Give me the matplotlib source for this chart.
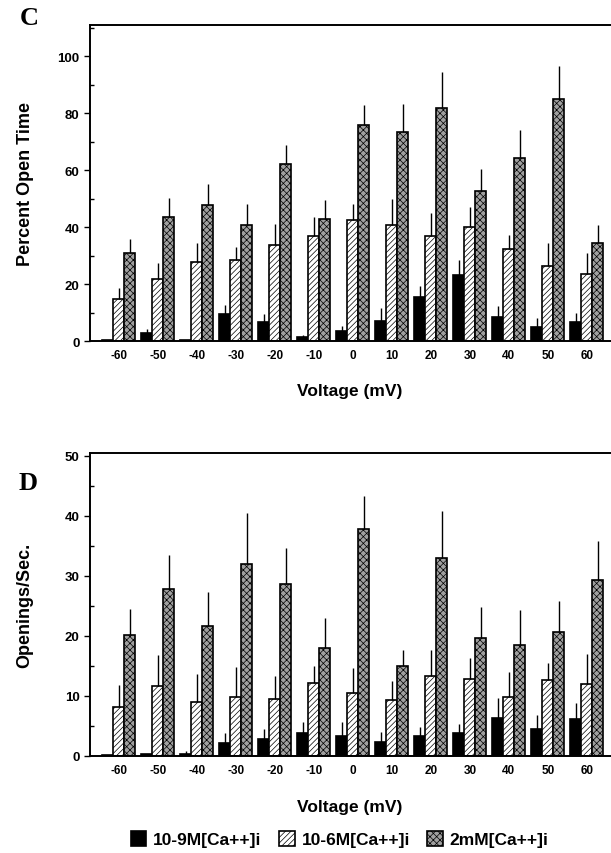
import numpy as np
import matplotlib
matplotlib.use("Agg")
import matplotlib.pyplot as plt
from matplotlib.ticker import MultipleLocator

plt.rcParams["font.family"] = ["Liberation Sans", "DejaVu Sans"]
plt.rcParams["font.weight"] = "bold"
plt.rcParams["hatch.linewidth"] = 0.5

# Voltage steps (mV)
voltages = ["-60", "-50", "-40", "-30", "-20", "-10", "0", "10", "20", "30", "40", "50", "60"]
series_labels = ["10-9M[Ca++]i", "10-6M[Ca++]i", "2mM[Ca++]i"]

# Panel C: percent open time (mean, upper SEM)
open_low = [0.5, 2.9, 0.3, 9.6, 6.7, 1.5, 3.6, 7.1, 15.3, 23.2, 8.5, 4.8, 6.6]
open_low_err = [0, 1.3, 0, 2.9, 2.7, 0.7, 1.8, 4.4, 3.9, 5.2, 3.9, 3.3, 3.1]
open_mid = [14.6, 21.9, 27.7, 28.4, 33.6, 36.8, 42.6, 40.7, 37.0, 40.1, 32.3, 26.4, 23.5]
open_mid_err = [4.2, 5.6, 6.6, 4.7, 7.4, 6.6, 5.4, 9.3, 7.8, 7.0, 4.9, 8.2, 7.4]
open_high = [30.8, 43.6, 47.7, 40.6, 62.3, 42.8, 75.8, 73.6, 82.0, 52.7, 64.4, 84.9, 34.6]
open_high_err = [5.0, 6.5, 7.6, 7.4, 6.7, 6.7, 7.0, 9.8, 12.5, 7.7, 9.6, 11.7, 6.1]

# Panel D: openings per second (mean, upper SEM)
freq_low = [0.2, 0.3, 0.3, 2.1, 2.9, 3.9, 3.4, 2.3, 3.4, 3.8, 6.3, 4.5, 6.1]
freq_low_err = [0, 0, 0.5, 1.8, 1.6, 1.8, 2.3, 1.7, 1.4, 1.6, 3.3, 2.3, 2.8]
freq_mid = [8.1, 11.7, 9.0, 9.8, 9.5, 12.1, 10.5, 9.4, 13.3, 12.9, 9.9, 12.6, 12.0]
freq_mid_err = [3.7, 5.2, 4.7, 5.1, 3.9, 2.9, 4.2, 3.1, 4.4, 3.5, 4.1, 2.9, 5.0]
freq_high = [20.2, 27.8, 21.6, 32.0, 28.7, 18.0, 37.8, 15.0, 33.0, 19.6, 18.5, 20.6, 29.4]
freq_high_err = [4.3, 5.7, 5.7, 8.5, 5.9, 5.0, 5.5, 2.7, 7.9, 5.2, 5.9, 5.3, 6.4]

# Bar styles: (facecolor, hatch)
styles = [("black", None), ("white", "//////"), ("#a0a0a0", "xxxxx")]


def draw_panel(ax, series, errors, ymax, major, minor, ylabel):
    x = np.arange(len(voltages))
    width = 0.28
    handles = []
    for i, (vals, errs) in enumerate(zip(series, errors)):
        face, hatch = styles[i]
        pos = x + (i - 1) * width
        b = ax.bar(pos, vals, width, color=face, edgecolor="black",
                   hatch=hatch, linewidth=1.2, label=series_labels[i], zorder=2)
        handles.append(b)
        # one-sided error bars (upper only)
        ax.vlines(pos, np.array(vals), np.array(vals) + np.array(errs),
                  color="black", linewidth=1.0, zorder=3)
    ax.set_xlim(-0.74, 12.62)
    ax.set_ylim(0, ymax)
    ax.set_xticks(x)
    ax.set_xticklabels(voltages, fontsize=8.5, fontweight="bold")
    ax.tick_params(axis="x", length=0, pad=6)
    ax.yaxis.set_major_locator(MultipleLocator(major))
    ax.yaxis.set_minor_locator(MultipleLocator(minor))
    ax.tick_params(axis="y", which="major", direction="out", length=4, width=1, labelsize=9.5)
    ax.tick_params(axis="y", which="minor", direction="in", length=3, width=1)
    for lbl in ax.get_yticklabels():
        lbl.set_fontweight("bold")
    ax.spines["right"].set_visible(False)
    for s in ["top", "left", "bottom"]:
        ax.spines[s].set_linewidth(1.4)
    ax.set_ylabel(ylabel, fontsize=13, fontweight="bold")
    ax.yaxis.set_label_coords(-0.108, 0.5)
    return handles


fig = plt.figure(figsize=(6.11, 8.54), dpi=100)
ax_c = fig.add_axes([0.1473, 0.5995, 0.8527, 0.370])
ax_d = fig.add_axes([0.1473, 0.1136, 0.8527, 0.3548])

handles = draw_panel(ax_c, [open_low, open_mid, open_high],
                     [open_low_err, open_mid_err, open_high_err],
                     111, 20, 10, "Percent Open Time")
draw_panel(ax_d, [freq_low, freq_mid, freq_high],
           [freq_low_err, freq_mid_err, freq_high_err],
           50.5, 10, 5, "Openings/Sec.")

fig.text(0.573, 0.542, "Voltage (mV)", ha="center", va="center", fontsize=12.5, fontweight="bold")
fig.text(0.573, 0.054, "Voltage (mV)", ha="center", va="center", fontsize=12.5, fontweight="bold")

# Panel letters
fig.text(0.032, 0.978, "C", ha="left", va="center", fontsize=19, fontweight="bold",
         family=["Liberation Serif", "DejaVu Serif"])
fig.text(0.030, 0.434, "D", ha="left", va="center", fontsize=19, fontweight="bold",
         family=["Liberation Serif", "DejaVu Serif"])

fig.legend(handles=handles, labels=series_labels, loc="center",
           bbox_to_anchor=(0.556, 0.016), ncol=3, frameon=False,
           handlelength=0.9, handleheight=0.9,
           handletextpad=0.4, columnspacing=1.0, borderaxespad=0,
           prop={"weight": "bold", "size": 12.5})

fig.savefig("out.png", dpi=100)
